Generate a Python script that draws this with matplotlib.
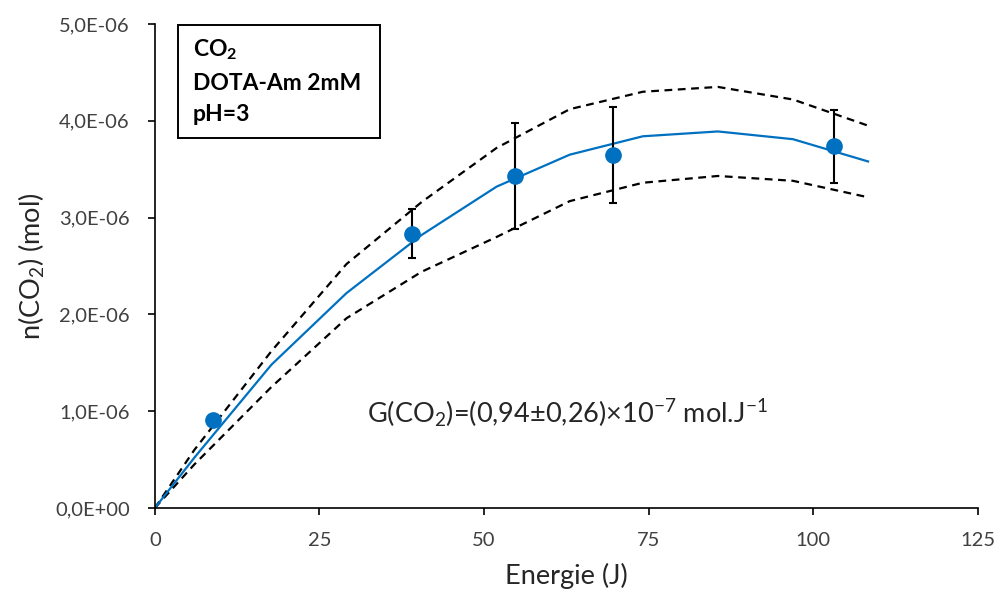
import numpy as np
import matplotlib.pyplot as plt
from matplotlib.patches import Rectangle

plt.rcParams['font.family'] = ['Lato', 'DejaVu Sans']
plt.rcParams['mathtext.fontset'] = 'custom'
plt.rcParams['mathtext.rm'] = 'Lato'
plt.rcParams['mathtext.it'] = 'Lato:italic'
plt.rcParams['mathtext.bf'] = 'Lato:bold'

# measured points (energy in J, n(CO2) in mol)
energy = [8.8, 39.0, 54.7, 69.6, 103.1]
n_co2 = [0.91e-6, 2.83e-6, 3.43e-6, 3.65e-6, 3.74e-6]
err_low = [0.0, 0.25e-6, 0.55e-6, 0.50e-6, 0.38e-6]
err_high = [0.0, 0.26e-6, 0.55e-6, 0.49e-6, 0.37e-6]

# model curves
model_x = [0, 6, 17.7, 29.1, 40.5, 51.9, 63.0, 74.1, 85.5, 96.9, 108.3]
model_mid = [0, 0.52, 1.48, 2.22, 2.82, 3.32, 3.65, 3.84, 3.89, 3.81, 3.58]
model_up = [0, 0.60, 1.62, 2.52, 3.16, 3.72, 4.12, 4.30, 4.35, 4.22, 3.95]
model_low = [0, 0.45, 1.25, 1.96, 2.44, 2.80, 3.17, 3.36, 3.43, 3.38, 3.21]

xticks = [0, 25, 50, 75, 100, 125]
yticks = [0, 1e-6, 2e-6, 3e-6, 4e-6, 5e-6]
ylabels = ['0,0E+00', '1,0E-06', '2,0E-06', '3,0E-06', '4,0E-06', '5,0E-06']
box_lines = ['CO$_\\mathbf{2}$', 'DOTA-Am 2mM', 'pH=3']

fig = plt.figure(figsize=(9.99, 5.94), dpi=100)
ax = fig.add_axes([0.155, 0.1448, 0.824, 0.8148])

blue = '#0070C0'
ax.plot(model_x, np.array(model_up) * 1e-6, color='k', ls=(0, (3.5, 2.5)), lw=1.6)
ax.plot(model_x, np.array(model_low) * 1e-6, color='k', ls=(0, (3.5, 2.5)), lw=1.6)
ax.plot(model_x, np.array(model_mid) * 1e-6, color=blue, lw=1.6)
ax.errorbar(energy, n_co2, yerr=[err_low, err_high], fmt='o', color=blue,
            ms=11, ecolor='k', elinewidth=1.5, capsize=2.7, capthick=1.5, zorder=5)

ax.set_xlim(0, 125)
ax.set_ylim(0, 5e-6)
ax.set_xticks(xticks)
ax.set_yticks(yticks)
ax.set_yticklabels(ylabels)
ax.tick_params(direction='out', length=5, width=1.2, labelsize=14.5, labelcolor='#404040')
ax.tick_params(axis='y', pad=13)
ax.tick_params(axis='x', pad=12)
ax.spines['top'].set_visible(False)
ax.spines['right'].set_visible(False)
ax.spines['left'].set_linewidth(1.2)
ax.spines['bottom'].set_linewidth(1.2)

ax.set_xlabel('Energie (J)', fontsize=19.5, color='#262626')
ax.set_ylabel('n(CO$_2$) (mol)', fontsize=19.5, color='#262626')
ax.xaxis.set_label_coords(0.5, -0.114)
ax.yaxis.set_label_coords(-0.131, 0.5)

ax.text(32.2, 0.878e-6, 'G(CO$_2$)=(0,94±0,26)×10$^{-7}$ mol.J$^{-1}$',
        fontsize=19.5, va='baseline', ha='left', color='#262626')

ax.add_patch(Rectangle((0.028, 0.764), 0.2454, 0.234, transform=ax.transAxes,
                       fc='white', ec='k', lw=1.4, clip_on=False, zorder=6))
for line, yb in zip(box_lines, [0.934, 0.864, 0.800]):
    ax.text(0.046, yb, line, transform=ax.transAxes, fontsize=16.5,
            fontweight='bold', va='baseline', ha='left', zorder=7)

fig.savefig('out.png', dpi=100)
